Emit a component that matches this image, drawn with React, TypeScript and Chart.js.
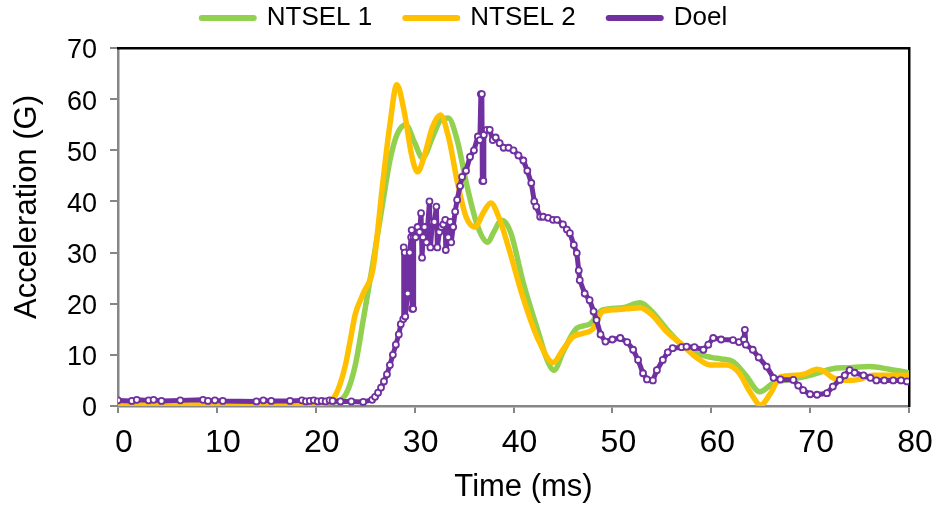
import React, { useEffect, useRef } from "react";
import { Chart, registerables } from "chart.js";

Chart.register(...registerables);

// ---------- DATA ----------
const xTickValues = [0, 10, 20, 30, 40, 50, 60, 70, 80];
const yTickValues = [0, 10, 20, 30, 40, 50, 60, 70];
const xTitle = "Time (ms)";
const yTitle = "Acceleration (G)";
const seriesLabels = ["NTSEL 1", "NTSEL 2", "Doel"];

const ntsel1Time = [
  0, 10, 20, 22, 23.1, 24, 24.8, 25.7, 26.8, 27.5,
  28.2, 29.1, 30, 30.8, 31.8, 32.6, 33.4, 34.3, 35.3, 36.4,
  37.4, 38, 38.8, 39.7, 41, 42.5, 43.4, 44.1, 45, 46.4,
  47.7, 49, 51, 52.8, 54, 55.5, 57, 58.5, 60, 61,
  62.2, 63.5, 64.9, 66.3, 68, 70, 72.3, 74, 76, 78,
  80,
];
const ntsel1Accel = [
  0.5, 0.5, 0.5, 0.8, 2.5, 8, 16.8, 27, 40, 48,
  53, 55, 51.5, 48.5, 52.5, 55.8, 56.3, 52, 43, 35,
  32, 34, 36.3, 34, 24, 14.5, 9, 7, 10.5, 15.2,
  16, 18.8, 19.2, 20.2, 18.5, 15, 12, 10.3, 9.5, 9.2,
  8.7, 6, 2.8, 4.5, 5.2, 6, 7.3, 7.5, 7.7, 7.2,
  6.5,
];

const ntsel2Time = [
  0, 10, 20, 21.5, 22.1, 23, 23.6, 24, 24.8, 25.8,
  26.8, 27.5, 28.2, 29, 29.7, 30.3, 31, 31.8, 32.6, 33.5,
  34.3, 35.2, 36.1, 37, 37.7, 38.5, 39.5, 41, 42.5, 44,
  45, 46, 47, 48, 49, 50, 51.4, 52.8, 54, 55.5,
  57.1, 58.5, 59.9, 61.6, 62.8, 64, 65, 66, 67, 68.5,
  69.5, 70.7, 71.5, 72.3, 74, 75, 76.4, 78, 80,
];
const ntsel2Accel = [
  0.3, 0.3, 0.4, 1, 2.5, 8, 14, 18, 22, 27,
  44, 55, 62.8, 57, 49, 45.8, 49, 54.5, 56.9, 52,
  44, 37, 35, 38, 39.7, 37, 31, 21, 13, 8.5,
  11, 13.5, 14.2, 15, 18.5, 18.8, 19, 19.2, 17.8, 14.5,
  11.9, 9.5, 8, 8, 6.5, 2.5, 0.2, 2.5, 5.7, 6,
  6.3, 7.2, 6.7, 5.5, 5, 5.2, 6, 6, 6,
];

const doelTime = [
  0, 1.4, 1.9, 3.1, 3.6, 4.4, 6.3, 8.6, 9.1, 9.8,
  10.6, 14.0, 14.7, 15.5, 17.4, 18.6, 19.0, 19.4, 19.8, 20.2,
  20.6, 21.0, 21.4, 21.7, 22.5, 23.6, 24.8, 25.7, 26.0, 26.3,
  26.6, 26.9, 27.2, 27.5, 27.8, 28.1, 28.4, 28.6, 28.85, 28.9,
  29.0, 29.05, 29.3, 29.5, 29.65, 29.7, 29.75, 29.85, 29.9, 30.1,
  30.3, 30.5, 30.65, 30.75, 30.85, 31.0, 31.2, 31.5, 31.6, 31.8,
  32.0, 32.2, 32.3, 32.5, 32.7, 32.9, 33.1, 33.15, 33.4, 33.6,
  33.7, 33.9, 34.1, 34.3, 34.6, 34.8, 35.2, 35.6, 36.0, 36.4,
  36.6, 36.7, 36.8, 36.85, 36.95, 37.0, 37.3, 37.6, 37.9, 38.2,
  38.6, 39.0, 39.5, 40.0, 40.5, 41.0, 41.4, 41.8, 42.1, 42.3,
  42.7, 43.0, 43.5, 44.0, 44.4, 45.0, 45.4, 45.7, 46.1, 46.4,
  46.6, 46.7, 47.2, 47.7, 48.1, 48.4, 48.8, 49.3, 50.0, 50.8,
  51.5, 52.1, 52.6, 53.1, 53.5, 54.1, 54.5, 55.1, 55.6, 56.1,
  57.0, 57.5, 58.3, 59.2, 59.7, 60.2, 61.0, 62.2, 62.8, 63.3,
  63.4, 63.5, 64.2, 64.8, 65.6, 66.3, 67.0, 68.3, 68.8, 69.3,
  70.0, 70.7, 71.7, 72.3, 73.0, 73.5, 74.0, 74.5, 75.4, 76.1,
  76.7, 77.5, 78.4, 79.2, 79.8,
];
const doelAccel = [
  1.1, 1.0, 1.2, 1.1, 1.2, 1.0, 1.1, 1.2, 1.0, 1.1,
  1.0, 0.9, 1.1, 1.0, 1.0, 1.1, 0.9, 1.0, 1.1, 0.9,
  1.0, 0.9, 1.1, 1.0, 0.9, 0.9, 0.8, 1.2, 1.8, 2.6,
  3.6, 4.8, 6.2, 8.0, 10.0, 12.0, 14.0, 16.0, 17.0, 31.0,
  30.0, 17.5, 22.0, 30.0, 33.0, 34.4, 19.0, 19.0, 33.0, 33.0,
  35.0, 34.0, 37.7, 29.0, 33.0, 35.0, 32.0, 40.0, 31.0, 36.0,
  36.0, 39.0, 31.0, 34.0, 35.0, 35.5, 36.4, 30.5, 33.0, 36.0,
  32.0, 35.0, 38.0, 40.3, 43.0, 44.8, 46.0, 48.7, 50.0, 52.7,
  52.0, 61.0, 61.0, 44.0, 44.0, 53.0, 54.0, 54.0, 52.0, 52.5,
  51.4, 50.5, 50.5, 50.0, 49.0, 48.0, 46.0, 43.6, 40.0, 39.0,
  37.0, 37.0, 36.8, 36.4, 36.4, 35.5, 34.5, 33.8, 31.5, 29.9,
  26.5, 24.6, 22.0, 20.7, 18.5, 16.8, 14.0, 12.6, 13.0, 13.3,
  12.5, 11.0, 9.0, 6.4, 5.2, 5.0, 7.0, 9.0, 10.5, 11.3,
  11.5, 11.6, 11.5, 11.0, 12.0, 13.3, 13.0, 12.9, 12.5, 13.0,
  14.9, 12.0, 11.0, 9.5, 7.7, 5.5, 5.2, 5.1, 4.0, 3.1,
  2.3, 2.2, 2.5, 3.8, 5.1, 6.0, 7.0, 6.5, 6.0, 5.5,
  5.0, 5.0, 5.0, 5.0, 4.8,
];

// ---------- STYLE ----------
const GREEN = "#92D050";
const YELLOW = "#FFC000";
const PURPLE = "#7030A0";
const GREY = "#868686";
const FONT = "'Liberation Sans', Arial, sans-serif";

const toPoints = (xs: number[], ys: number[]) =>
  xs.map((x, i) => ({ x, y: ys[i] }));

const titlePlugin = {
  id: "axisTitles",
  afterDraw(chart: any) {
    const { ctx, chartArea } = chart;
    ctx.save();
    ctx.fillStyle = "#000";
    ctx.font = `31px ${FONT}`;
    ctx.textAlign = "center";
    ctx.textBaseline = "middle";
    ctx.fillText(xTitle, (chartArea.left + chartArea.right) / 2 + 10, chartArea.bottom + 81);
    ctx.translate(27, (chartArea.top + chartArea.bottom) / 2 - 20);
    ctx.rotate(-Math.PI / 2);
    ctx.fillText(yTitle, 0, 0);
    ctx.restore();
  },
};

export default function App() {
  const ref = useRef<HTMLCanvasElement | null>(null);

  useEffect(() => {
    if (!ref.current) return;
    Chart.defaults.font.family = FONT;
    Chart.defaults.color = "#000";

    const chart = new Chart(ref.current, {
      type: "line",
      data: {
        datasets: [
          {
            label: seriesLabels[0],
            data: toPoints(ntsel1Time, ntsel1Accel),
            borderColor: GREEN,
            backgroundColor: GREEN,
            borderWidth: 5.5,
            pointRadius: 0,
            cubicInterpolationMode: "monotone",
            borderCapStyle: "round",
            borderJoinStyle: "round",
            order: 3,
          },
          {
            label: seriesLabels[1],
            data: toPoints(ntsel2Time, ntsel2Accel),
            borderColor: YELLOW,
            backgroundColor: YELLOW,
            borderWidth: 5.5,
            pointRadius: 0,
            cubicInterpolationMode: "monotone",
            borderCapStyle: "round",
            borderJoinStyle: "round",
            order: 2,
          },
          {
            label: seriesLabels[2],
            data: toPoints(doelTime, doelAccel),
            borderColor: PURPLE,
            backgroundColor: PURPLE,
            borderWidth: 5,
            pointRadius: 3,
            pointBorderWidth: 1.8,
            pointBackgroundColor: "#ffffff",
            pointBorderColor: PURPLE,
            tension: 0,
            borderCapStyle: "round",
            borderJoinStyle: "round",
            order: 1,
          },
        ],
      },
      options: {
        responsive: false,
        animation: false,
        events: [],
        layout: { padding: { left: 20, right: 26, top: -28, bottom: 0 } },
        plugins: {
          tooltip: { enabled: false },
          legend: {
            position: "top",
            align: "center",
            labels: {
              usePointStyle: true,
              pointStyle: "line",
              pointStyleWidth: 52,
              boxHeight: 6,
              padding: 33,
              color: "#000",
              font: { size: 26, family: FONT },
              sort: (a: any, b: any) => a.datasetIndex - b.datasetIndex,
              generateLabels: (c: any) =>
                (Chart.defaults.plugins.legend.labels as any)
                  .generateLabels(c)
                  .map((l: any) => ({ ...l, lineWidth: 6, lineCap: "round" })),
            },
          },
        },
        scales: {
          x: {
            type: "linear",
            position: "bottom",
            min: 0,
            max: 80,
            afterBuildTicks: (s: any) => {
              s.ticks = xTickValues.map((v) => ({ value: v }));
            },
            afterFit: (s: any) => {
              s.height = 101;
              s.paddingLeft = 0;
              s.paddingRight = 0;
            },
            ticks: {
              color: "#000",
              font: { size: 32, family: FONT },
              padding: 11,
              labelOffset: 6,
              maxRotation: 0,
              autoSkip: false,
            },
            grid: {
              display: true,
              drawOnChartArea: false,
              drawTicks: true,
              tickLength: 7,
              color: GREY,
              lineWidth: 2,
            },
            border: { display: true, color: GREY, width: 2.5 },
          },
          y: {
            type: "linear",
            position: "left",
            min: 0,
            max: 70,
            afterBuildTicks: (s: any) => {
              s.ticks = yTickValues.map((v) => ({ value: v }));
            },
            afterFit: (s: any) => {
              s.width = 98;
            },
            ticks: {
              color: "#000",
              font: { size: 27, family: FONT },
              padding: 13,
              labelOffset: 3,
              autoSkip: false,
            },
            grid: {
              display: true,
              drawOnChartArea: false,
              drawTicks: true,
              tickLength: 8,
              color: GREY,
              lineWidth: 2,
            },
            border: { display: true, color: GREY, width: 2.5 },
          },
          xTop: {
            type: "linear",
            position: "top",
            min: 0,
            max: 80,
            ticks: { display: false },
            grid: { display: false, drawTicks: false },
            border: { display: true, color: "#000", width: 2.5 },
            afterFit: (s: any) => {
              s.height = 7;
              s.paddingLeft = 0;
              s.paddingRight = 0;
            },
          },
          yRight: {
            type: "linear",
            position: "right",
            min: 0,
            max: 70,
            ticks: { display: false },
            grid: { display: false, drawTicks: false },
            border: { display: true, color: "#000", width: 2.5 },
            afterFit: (s: any) => {
              s.width = 0;
            },
          },
        },
      },
      plugins: [titlePlugin],
    } as any);

    return () => chart.destroy();
  }, []);

  return (
    <div
      style={{
        position: "fixed",
        left: 0,
        top: 0,
        width: 935,
        height: 507,
        background: "#ffffff",
      }}
    >
      <canvas ref={ref} width={935} height={507} />
    </div>
  );
}
